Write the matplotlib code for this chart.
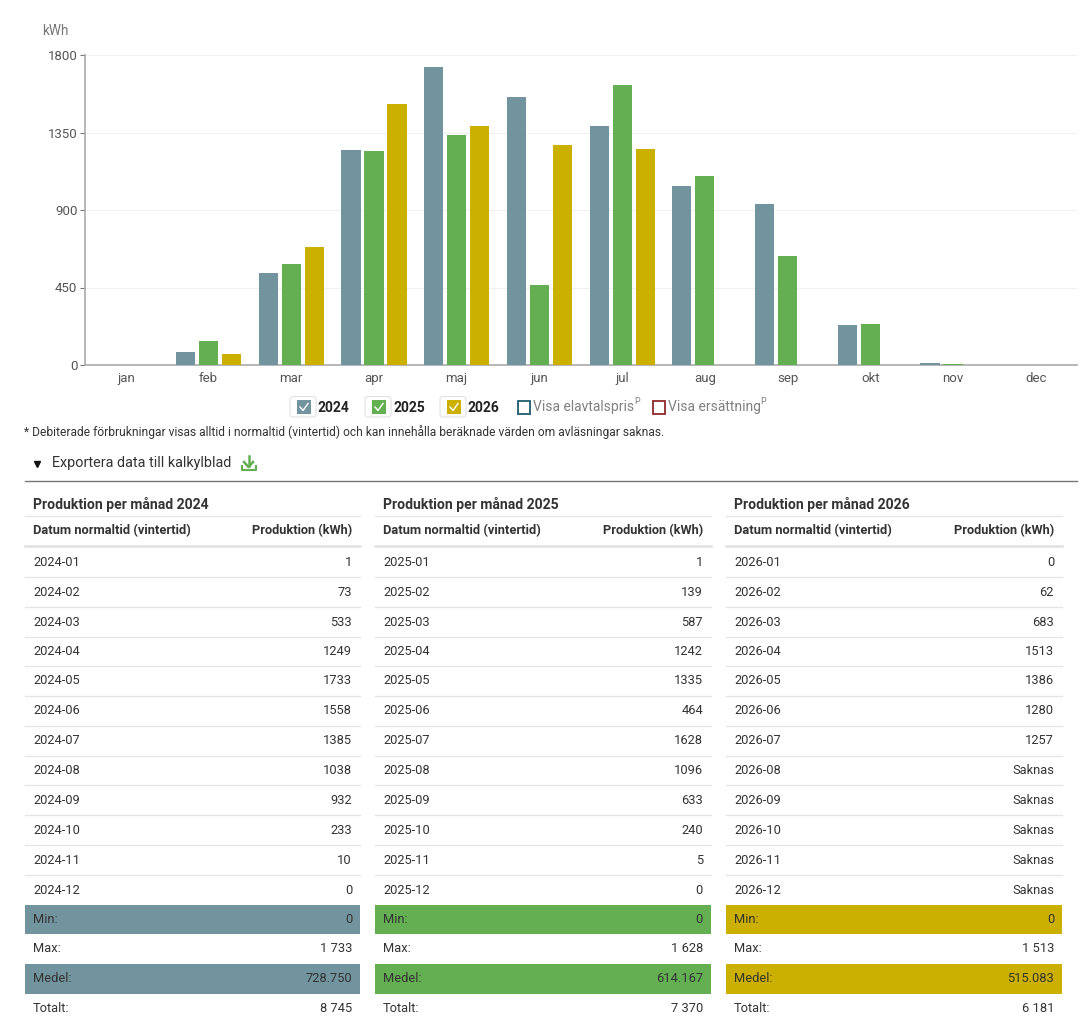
import numpy as np
import matplotlib
matplotlib.use('Agg')
from matplotlib import pyplot as plt
from matplotlib.patches import Rectangle, FancyBboxPatch

plt.rcParams['font.family'] = ['Roboto', 'DejaVu Sans']

months = ['jan', 'feb', 'mar', 'apr', 'maj', 'jun', 'jul', 'aug', 'sep', 'okt', 'nov', 'dec']
years = ['2024', '2025', '2026']
vals_2024 = [1, 73, 533, 1249, 1733, 1558, 1385, 1038, 932, 233, 10, 0]
vals_2025 = [1, 139, 587, 1242, 1335, 464, 1628, 1096, 633, 240, 5, 0]
vals_2026 = [0, 62, 683, 1513, 1386, 1280, 1257, None, None, None, None, None]
stats_labels = ['Min:', 'Max:', 'Medel:', 'Totalt:']
stats_2024 = ['0', '1 733', '728.750', '8 745']
stats_2025 = ['0', '1 628', '614.167', '7 370']
stats_2026 = ['0', '1 513', '515.083', '6 181']
yticks = [0, 450, 900, 1350, 1800]

colors = ['#72949f', '#65af53', '#cbb000']
W, H = 1087, 1035
text_col = '#333333'

fig = plt.figure(figsize=(W / 100, H / 100), dpi=100)

# chart, placed by pixels
left, right, top, bottom = 84.5, 1077, 55, 365
ax = fig.add_axes([left / W, 1 - bottom / H, (right - left) / W, (bottom - top) / H])
x = np.arange(12)
for i, vals in enumerate([vals_2024, vals_2025, vals_2026]):
    v = [np.nan if a is None else a for a in vals]
    ax.bar(x + (i - 1) * 0.278, v, width=0.232, color=colors[i], zorder=3)
ax.set_xlim(-0.5, 11.5)
ax.set_ylim(0, 1800)
ax.set_yticks(yticks)
ax.set_xticks(x)
ax.set_xticklabels(months)
ax.tick_params(axis='y', length=3.6, width=0.8, color='#777777', labelcolor='#555555', labelsize=9.5, pad=1.5)
ax.tick_params(axis='x', length=0, labelcolor='#555555', labelsize=9.5, pad=5)
ax.grid(axis='y', color='#f0f0f0', linewidth=0.8, zorder=0)
ax.set_axisbelow(True)
for s in ['top', 'right']:
    ax.spines[s].set_visible(False)
for s in ['left', 'bottom']:
    ax.spines[s].set_color('#aaaaaa')
    ax.spines[s].set_linewidth(1.2)

# everything else is drawn on a pixel overlay
ov = fig.add_axes([0, 0, 1, 1], zorder=5)
ov.set_xlim(0, W)
ov.set_ylim(H, 0)
ov.axis('off')
ov.patch.set_alpha(0)

ov.text(42, 31, 'kWh', fontsize=9.8, color='#777777', va='center')

# legend
for lx, tx, c, y in zip([290, 365, 440], [318, 393, 468], colors, years):
    ov.add_patch(FancyBboxPatch((lx, 396.5), 26, 20.5, boxstyle='round,pad=0,rounding_size=3',
                                fc='white', ec='#e2e2e2', lw=0.8))
    ov.add_patch(Rectangle((lx + 7, 399.5), 13.5, 14, fc=c, ec='none'))
    ov.plot([lx + 10, lx + 13, lx + 18], [407, 410.5, 403.5], color='white', lw=1)
    ov.text(tx, 407.5, y, fontsize=10, fontweight='bold', color='#222222', va='center')
ov.add_patch(Rectangle((518, 401), 11.5, 12.5, fc='white', ec='#1d5c6b', lw=1.3))
ov.text(533, 407.5, 'Visa elavtalspris', fontsize=10, color='#808080', va='center')
ov.text(634, 401, 'P', fontsize=6.5, color='#808080', va='center')
ov.add_patch(Rectangle((653, 401), 11.5, 12.5, fc='white', ec='#8e2a2a', lw=1.3))
ov.text(668, 407.5, 'Visa ersättning', fontsize=10, color='#808080', va='center')
ov.text(760, 401, 'P', fontsize=6.5, color='#808080', va='center')

ov.text(24, 432, '* Debiterade förbrukningar visas alltid i normaltid (vintertid) och kan innehålla beräknade värden om avläsningar saknas.',
        fontsize=8.68, color=text_col, va='center')

# export row
ov.plot([36.5], [464], marker='v', color='#111111', ms=4.5)
ov.text(52, 463.5, 'Exportera data till kalkylblad', fontsize=10.35, color=text_col, va='center')
ov.plot([248.5, 248.5], [456, 466], color='#65af53', lw=1.8)
ov.plot([244, 248.5, 253], [462, 467, 462], color='#65af53', lw=1.8)
ov.plot([241.5, 241.5, 256, 256], [466, 470, 470, 466], color='#65af53', lw=1.5)
ov.plot([25, 1077], [481, 481], color='#777777', lw=1)

# tables
col_left = [25, 375, 726]
col_right = [360, 711, 1062]
row_y = [561.5, 591.5, 621.5, 651, 680.5, 710.5, 740.5, 770, 799.5, 829.5, 859.5, 889.5]
stat_y = [919, 948.5, 978.5, 1008]
all_vals = [vals_2024, vals_2025, vals_2026]
all_stats = [stats_2024, stats_2025, stats_2026]
for t in range(3):
    l, r = col_left[t], col_right[t]
    ov.text(l + 8, 504, 'Produktion per månad ' + years[t], fontsize=10.05, fontweight='bold', color=text_col, va='center')
    ov.plot([l, r], [516, 516], color='#e4e4e4', lw=0.9)
    ov.text(l + 8, 530.5, 'Datum normaltid (vintertid)', fontsize=9.25, fontweight='bold', color=text_col, va='center')
    ov.text(r - 8, 530.5, 'Produktion (kWh)', fontsize=9.2, fontweight='bold', color=text_col, va='center', ha='right')
    ov.plot([l, r], [545.5, 545.5], color='#dfe2e5', lw=1.8)
    for m in range(12):
        v = all_vals[t][m]
        ov.text(l + 8, row_y[m] + 0.5, '%s-%02d' % (years[t], m + 1), fontsize=9.3, color=text_col, va='center')
        ov.text(r - 8, row_y[m] + 0.5, 'Saknas' if v is None else str(v), fontsize=9.3, color=text_col, va='center', ha='right')
        if m < 11:
            ov.plot([l, r], [row_y[m] + 15, row_y[m] + 15], color='#e4e4e4', lw=0.9)
    for s in range(4):
        if s % 2 == 0:
            ov.add_patch(Rectangle((l, stat_y[s] - 14.5), r - l, 29.5, fc=colors[t], ec='none'))
        ov.text(l + 8, stat_y[s] + 0.5, stats_labels[s], fontsize=9.3, color=text_col, va='center')
        ov.text(r - 8, stat_y[s] + 0.5, all_stats[t][s], fontsize=9.3, color=text_col, va='center', ha='right')

fig.savefig('out.png', dpi=100)
